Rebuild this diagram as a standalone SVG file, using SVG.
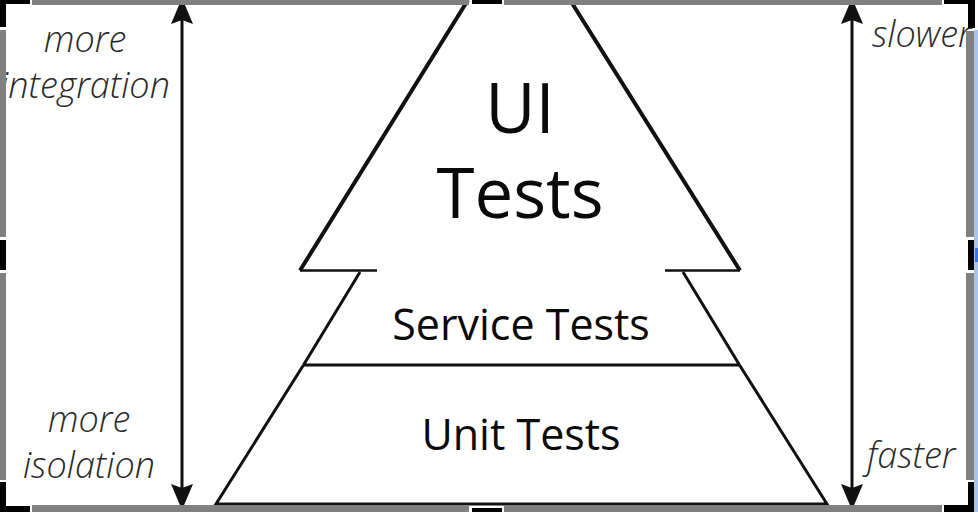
<svg xmlns="http://www.w3.org/2000/svg" width="978" height="512" viewBox="0 0 978 512">
<style>
.lbl{font-family:"Open Sans","Liberation Sans",sans-serif;font-weight:500;fill:#0a0a0a;text-anchor:middle}
.side{font-family:"Open Sans","Liberation Sans",sans-serif;font-style:italic;font-weight:300;fill:#2a2a2a;font-size:36px}
.edge{stroke:#111;fill:none;stroke-linejoin:miter}
.axis{stroke:#111;stroke-width:3}
.border{fill:#808080}
.handle{fill:#000}
</style>
<defs>
<marker id="ah" viewBox="0 0 26 22" refX="24" refY="11" markerWidth="26" markerHeight="22" markerUnits="userSpaceOnUse" orient="auto-start-reverse">
<path d="M26 11 L0 0 L4 11 L0 22 Z" fill="#111"/>
</marker>
</defs>
<rect width="978" height="512" fill="#fff"/>

<g id="ui-tests">
<path class="edge" stroke-width="4" d="M468 0 L300 270.5 M570 0 L740 270.5"/>
<path class="edge" stroke-width="2.5" d="M300 270.5 L377 270.5 M665 270.5 L740 270.5"/>
<text class="lbl" x="520" y="133" font-size="69">UI</text>
<text class="lbl" x="520" y="218" font-size="69">Tests</text>
</g>

<g id="service-tests">
<path class="edge" stroke-width="3" d="M360 272 L303.5 365 M683 272 L739.5 365 M303.5 365 L739.5 365"/>
<text class="lbl" x="521" y="340" font-size="43">Service Tests</text>
</g>

<g id="unit-tests">
<path class="edge" stroke-width="3" d="M303.5 365 L216 504 L827 504 L739.5 365"/>
<text class="lbl" x="521" y="450" font-size="43">Unit Tests</text>
</g>

<g id="connectors">
<line class="axis" x1="182" y1="0" x2="182" y2="508" marker-start="url(#ah)" marker-end="url(#ah)"/>
<line class="axis" x1="852" y1="0" x2="852" y2="508" marker-start="url(#ah)" marker-end="url(#ah)"/>
</g>

<g id="labels">
<text class="side" x="85" y="52" text-anchor="middle">more</text>
<text class="side" x="85" y="98" text-anchor="middle">integration</text>
<text class="side" x="89" y="432" text-anchor="middle">more</text>
<text class="side" x="89" y="478" text-anchor="middle">isolation</text>
<text class="side" x="872" y="47">slower</text>
<text class="side" x="867" y="468">faster</text>
</g>

<g id="frame">
<rect class="border" x="32" y="0" width="437" height="5"/>
<rect class="border" x="504" y="0" width="438" height="5"/>
<rect class="border" x="32" y="505" width="437" height="7"/>
<rect class="border" x="504" y="505" width="438" height="7"/>
<rect class="border" x="0" y="30" width="6" height="207"/>
<rect class="border" x="0" y="273" width="6" height="207"/>
<rect class="border" x="966" y="31" width="8" height="206"/>
<rect class="border" x="966" y="273" width="8" height="207"/>
<rect x="974" y="30" width="4" height="482" fill="#a9c3ef"/>
<rect x="975" y="248" width="3" height="14" fill="#3b78e7"/>
<rect class="handle" x="0" y="0" width="30" height="4"/>
<rect class="handle" x="0" y="0" width="6" height="27"/>
<rect class="handle" x="472" y="0" width="30" height="4"/>
<rect class="handle" x="944" y="0" width="31" height="4"/>
<rect class="handle" x="968" y="0" width="7" height="28"/>
<rect class="handle" x="0" y="240" width="6" height="30"/>
<rect class="handle" x="968" y="240" width="6" height="30"/>
<rect class="handle" x="0" y="482" width="6" height="30"/>
<rect class="handle" x="0" y="506" width="30" height="6"/>
<rect class="handle" x="472" y="508" width="30" height="4"/>
<rect class="handle" x="968" y="482" width="6" height="30"/>
<rect class="handle" x="944" y="505" width="30" height="7"/>
</g>
</svg>
